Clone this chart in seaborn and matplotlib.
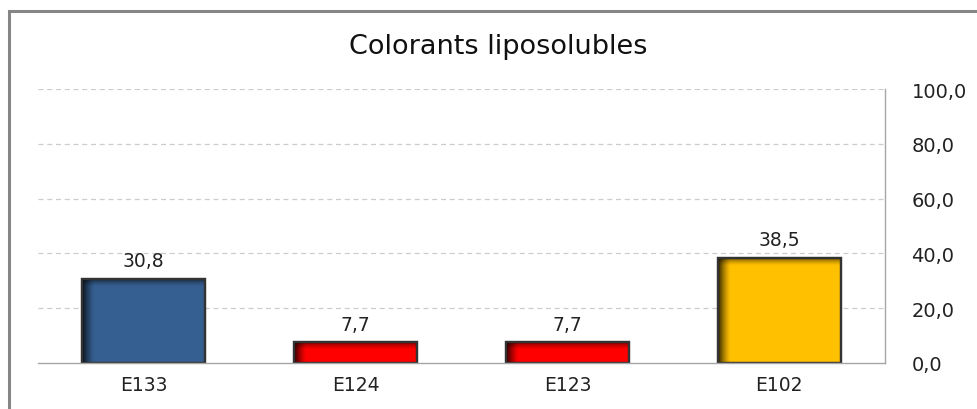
import matplotlib
matplotlib.use("Agg")
import matplotlib.pyplot as plt
import numpy as np
import pandas as pd
import seaborn as sns
from matplotlib.patches import Rectangle

categories = ["E133", "E124", "E123", "E102"]
values = [30.8, 7.7, 7.7, 38.5]
colors = ["#365F91", "#FF0000", "#FF0000", "#FFC000"]
yticks = [0, 20, 40, 60, 80, 100]
title = "Colorants liposolubles"

sns.set_theme(style="white")
plt.rcParams["font.family"] = ["DejaVu Sans"]

fig = plt.figure(figsize=(9.77, 4.10), dpi=100)
ax = fig.add_axes([38 / 977, 1 - 364 / 410, (885 - 38) / 977, (364 - 90) / 410])

df = pd.DataFrame({"cat": categories, "val": values})
sns.barplot(data=df, x="cat", y="val", hue="cat", palette=colors, legend=False,
            width=0.58, edgecolor="#333333", linewidth=1.6, ax=ax, saturation=1)

ax.set_xlim(-0.5, 3.5)
ax.set_ylim(0, 100)

# shading gradient at left and top edges of bars
for p in list(ax.patches):
    p.set_zorder(2)
    x0, y0 = p.get_x(), p.get_y()
    w, h = p.get_width(), p.get_height()
    grad = np.zeros((2, 256, 4))
    a = np.clip(1 - np.linspace(0, 1, 256) / 0.10, 0, 1) ** 1.3 * 0.8
    grad[..., 3] = a
    ax.imshow(grad, extent=(x0, x0 + w, y0, y0 + h), aspect="auto",
              clip_path=p, clip_on=True, zorder=2.2, interpolation="bilinear")
    gradv = np.zeros((256, 2, 4))
    frac = 3.0 / max(h, 1e-6)
    av = np.clip(1 - np.linspace(0, 1, 256) / max(frac, 0.01), 0, 1) ** 1.3 * 0.6
    gradv[..., 3] = av[:, None]
    ax.imshow(gradv, extent=(x0, x0 + w, y0, y0 + h), aspect="auto", origin="upper",
              clip_path=p, clip_on=True, zorder=2.2, interpolation="bilinear")
    edge = Rectangle((x0, y0), w, h, fill=False, edgecolor="#333333", linewidth=1.6, zorder=2.5)
    ax.add_artist(edge)

ax.set_xlim(-0.5, 3.5)
ax.set_ylim(0, 100)
ax.set_xlabel("")
ax.set_ylabel("")

for i, v in enumerate(values):
    ax.annotate(f"{v:.1f}".replace(".", ","), (i, v), xytext=(0, 6),
                textcoords="offset points", ha="center", va="bottom",
                fontsize=13.5, color="#222222")

ax.yaxis.tick_right()
ax.set_yticks(yticks)
ax.set_yticklabels([f"{t:.1f}".replace(".", ",") for t in yticks], ha="left")
ax.tick_params(axis="y", length=0, pad=19, labelsize=14, labelcolor="#222222")
ax.tick_params(axis="x", length=0, pad=9, labelsize=13.5, labelcolor="#222222")

for t in yticks[1:]:
    ax.axhline(t, color="#CCCCCC", lw=0.9, ls=(0, (4, 3)), zorder=0)

for s in ["top", "left"]:
    ax.spines[s].set_visible(False)
ax.spines["right"].set_color("#A6A6A6")
ax.spines["right"].set_linewidth(1.0)
ax.spines["bottom"].set_color("#A6A6A6")
ax.spines["bottom"].set_linewidth(1.0)

fig.text(498 / 977, 1 - 47 / 410, title, ha="center", va="center", fontsize=19.5, color="#111111")

border = Rectangle((9 / 977, -0.1), 1.2, 0.1 + 1 - 12 / 410, transform=fig.transFigure,
                   fill=False, edgecolor="#868686", linewidth=2.2, clip_on=False)
fig.patches.append(border)

fig.savefig("out.png", dpi=100, facecolor="white")
